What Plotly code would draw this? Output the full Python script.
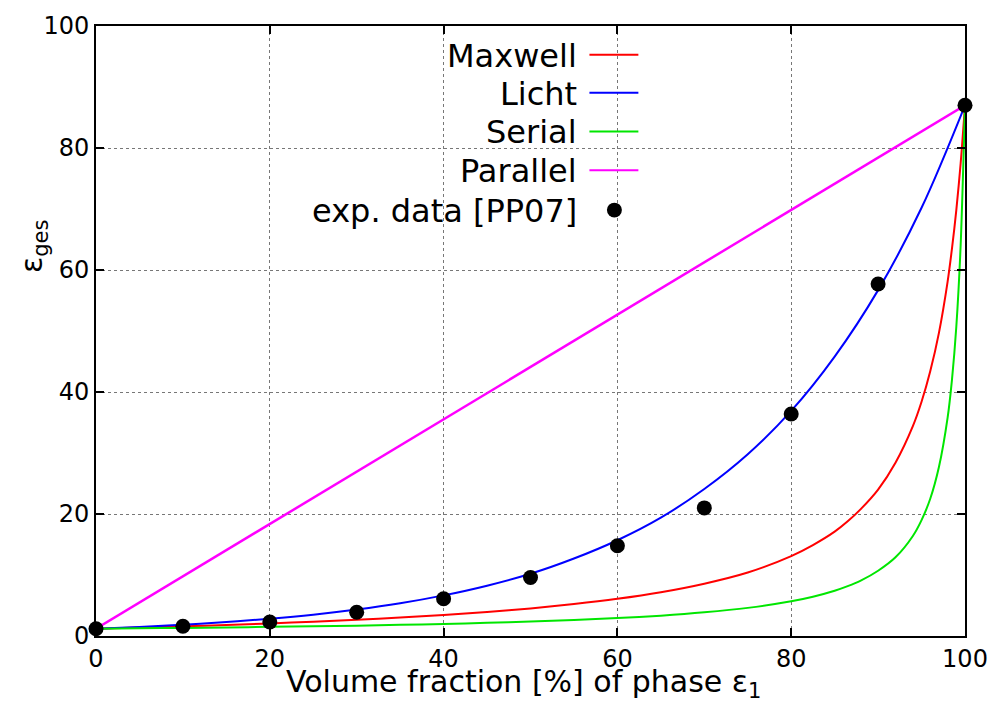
import plotly.graph_objects as go

# ---------------- data ----------------
x_licht = [0, 5, 10, 15, 20, 25, 30, 35, 40, 45, 50, 55, 60, 65, 70, 75, 80, 85, 90, 95, 100]
y_licht = [1.2, 1.49, 1.84, 2.28, 2.83, 3.50, 4.34, 5.37, 6.66, 8.25, 10.2, 12.7, 15.7, 19.4,
           24.1, 29.8, 36.9, 45.8, 56.7, 70.2, 87.0]

x_steep = [0, 5, 10, 15, 20, 25, 30, 35, 40, 45, 50, 55, 60, 65, 70, 75, 80, 82.5, 85, 86.5,
           88, 90, 92, 94, 95, 96, 97, 98, 98.5, 99, 99.5, 100]
y_maxwell = [1.2, 1.38, 1.58, 1.81, 2.06, 2.34, 2.66, 3.02, 3.44, 3.94, 4.52, 5.23, 6.09, 7.17,
             8.57, 10.4, 13.1, 14.9, 17.1, 18.8, 20.8, 24.0, 28.4, 34.4, 38.4, 43.4, 49.7,
             58.1, 63.5, 69.8, 77.5, 87.0]
y_serial = [1.2, 1.26, 1.33, 1.41, 1.50, 1.59, 1.70, 1.83, 1.98, 2.16, 2.37, 2.62, 2.94, 3.34,
            3.88, 4.61, 5.69, 6.44, 7.42, 8.17, 9.08, 10.7, 12.9, 16.4, 19.0, 22.5, 27.7,
            35.8, 42.0, 50.7, 64.1, 87.0]

x_parallel = [0, 100]
y_parallel = [1.2, 87.0]

x_exp = [0, 10, 20, 30, 40, 50, 60, 70, 80, 90, 100]
y_exp = [1.2, 1.6, 2.3, 3.9, 6.1, 9.6, 14.8, 21.0, 36.4, 57.7, 87.0]

legend_names = ["Maxwell", "Licht", "Serial", "Parallel", "exp. data [PP07]"]
x_ticks = [0, 20, 40, 60, 80, 100]
y_ticks = [0, 20, 40, 60, 80, 100]

# ---------------- figure ----------------
FONT = "DejaVu Sans"
colors = ["#ff0000", "#0000ff", "#00e600", "#ff00ff"]

fig = go.Figure()
fig.add_trace(go.Scatter(x=x_steep, y=y_maxwell, mode="lines",
                         line=dict(color=colors[0], width=2, shape="spline", smoothing=0.8),
                         name=legend_names[0]))
fig.add_trace(go.Scatter(x=x_licht, y=y_licht, mode="lines",
                         line=dict(color=colors[1], width=2, shape="spline", smoothing=1.0),
                         name=legend_names[1]))
fig.add_trace(go.Scatter(x=x_steep, y=y_serial, mode="lines",
                         line=dict(color=colors[2], width=2, shape="spline", smoothing=0.8),
                         name=legend_names[2]))
fig.add_trace(go.Scatter(x=x_parallel, y=y_parallel, mode="lines",
                         line=dict(color=colors[3], width=2.5), name=legend_names[3]))
fig.add_trace(go.Scatter(x=x_exp, y=y_exp, mode="markers", cliponaxis=False,
                         marker=dict(color="black", size=15), name=legend_names[4]))

axis_common = dict(
    showline=True, linecolor="black", linewidth=2, mirror="ticks",
    ticks="inside", ticklen=8, tickwidth=1.5, tickcolor="black",
    showgrid=True, gridcolor="#777777", griddash="dot", gridwidth=1,
    zeroline=False, tickfont=dict(family=FONT, size=24, color="black"),
)

fig.update_layout(
    width=1000, height=702,
    margin=dict(l=96, r=34, t=23, b=66),
    paper_bgcolor="white", plot_bgcolor="white",
    showlegend=False,
    xaxis=dict(range=[0, 100], tickvals=x_ticks, **axis_common),
    yaxis=dict(range=[0, 100], tickvals=y_ticks, **axis_common),
)


def px_x(p):
    return (p - 96) / 870


def px_y(p):
    return (636 - p) / 613


# axis titles
fig.add_annotation(text="Volume fraction [%] of phase ε<sub>1</sub>", xref="paper", yref="paper",
                   x=px_x(524), y=px_y(684), xanchor="center", yanchor="middle",
                   showarrow=False, font=dict(family=FONT, size=30, color="black"))
fig.add_annotation(text="ε<sub>ges</sub>", xref="paper", yref="paper",
                   x=px_x(34), y=px_y(245), xanchor="center", yanchor="middle",
                   textangle=-90, showarrow=False, font=dict(family=FONT, size=30, color="black"))

# legend (gnuplot style: text right-aligned, sample to the right)
fig.add_shape(type="rect", xref="paper", yref="paper", layer="between",
              x0=px_x(412), x1=px_x(650), y0=px_y(226), y1=px_y(28),
              fillcolor="white", line=dict(width=0))

legend_y = [52, 90, 129, 168, 208]
for i, name in enumerate(legend_names):
    fig.add_annotation(text=name, xref="paper", yref="paper", x=px_x(580), y=px_y(legend_y[i] + 1),
                       xanchor="right", yanchor="middle", showarrow=False,
                       font=dict(family=FONT, size=32, color="black"))
    if i < 4:
        fig.add_shape(type="line", xref="paper", yref="paper",
                      x0=px_x(590), x1=px_x(639), y0=px_y(legend_y[i]), y1=px_y(legend_y[i]),
                      line=dict(color=colors[i], width=2))
    else:
        fig.add_shape(type="circle", xref="paper", yref="paper",
                      x0=px_x(607.5), x1=px_x(622.5), y0=px_y(215.5), y1=px_y(200.5),
                      fillcolor="black", line=dict(color="black", width=0))

fig.write_html("out.html")
